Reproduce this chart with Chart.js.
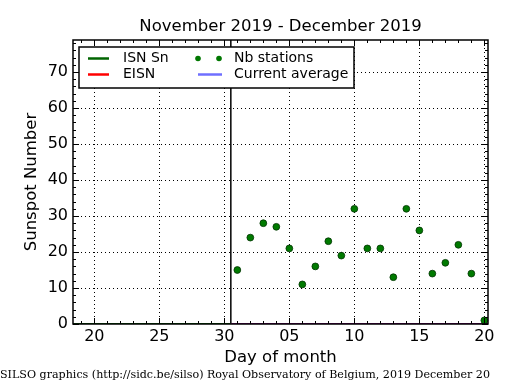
<!DOCTYPE html>
<html><head><meta charset="utf-8">
<script src="https://cdn.jsdelivr.net/npm/chart.js@4"></script>
<style>html,body{margin:0;padding:0;background:#fff}#wrap{width:515px;height:390px}</style>
</head><body><div id="wrap"><canvas id="c" width="515" height="390"></canvas></div>
<script>
const chartTitle = "November 2019 - December 2019";
const footerText = "SILSO graphics (http://sidc.be/silso) Royal Observatory of Belgium, 2019 December 20";
const xAxisTitle = "Day of month";
const yAxisTitle = "Sunspot Number";
// day index: Nov n = n, Dec n = 30 + n
const stationDays = [31,32,33,34,35,36,37,38,39,40,41,42,43,44,45,46,47,48,49,50];
const stationValues = [15,24,28,27,21,11,16,23,19,32,21,21,13,32,26,14,17,22,14,1];
const isnDays = [18, 30.5];
const isnValues = [0, 0];
const decLineDays = [30.5, 51];
const decLineValues = [0, 0];
const monthBoundary = 30.5;
const xTickValues = [20,25,30,35,40,45,50];
const xTickLabels = ["20","25","30","05","10","15","20"];
const yTickValues = [0,10,20,30,40,50,60,70];
const legendItems = [
  {label:"ISN Sn", kind:"line", color:"#006400"},
  {label:"EISN", kind:"line", color:"#ff0000"},
  {label:"Nb stations", kind:"dots", color:"#007700"},
  {label:"Current average", kind:"line", color:"#6f6fff"}
];

const toXY = (xs, ys) => xs.map((x,i)=>({x:x, y:ys[i]}));

const FONT = "'DejaVu Sans', sans-serif";

const framePlugin = {
  id: 'frame',
  beforeDatasetsDraw(chart) {
    const {ctx, chartArea: a, scales: {x, y}} = chart;
    ctx.save();
    ctx.strokeStyle = '#000';
    ctx.lineWidth = 1;
    ctx.setLineDash([1, 3]);
    xTickValues.forEach(v => {
      const px = Math.round(x.getPixelForValue(v)) + 0.5;
      ctx.beginPath(); ctx.moveTo(px, a.top); ctx.lineTo(px, a.bottom); ctx.stroke();
    });
    yTickValues.forEach(v => {
      if (v === 0) return;
      const py = Math.round(y.getPixelForValue(v)) + 0.5;
      ctx.beginPath(); ctx.moveTo(a.left, py); ctx.lineTo(a.right, py); ctx.stroke();
    });
    ctx.setLineDash([]);
    ctx.lineWidth = 1.5;
    const bx = x.getPixelForValue(monthBoundary);
    ctx.beginPath(); ctx.moveTo(bx, a.top); ctx.lineTo(bx, a.bottom); ctx.stroke();
    ctx.restore();
  },
  afterDatasetsDraw(chart) {
    const {ctx, chartArea: a, scales: {x, y}} = chart;
    ctx.save();
    ctx.strokeStyle = '#000';
    ctx.lineWidth = 1;
    for (let d = Math.ceil(x.min); d <= x.max; d++) {
      const px = Math.round(x.getPixelForValue(d)) + 0.5;
      const major = xTickValues.includes(d);
      const L = major ? 6 : 3;
      ctx.beginPath();
      ctx.moveTo(px, a.bottom); ctx.lineTo(px, a.bottom - L);
      ctx.moveTo(px, a.top); ctx.lineTo(px, a.top + L);
      ctx.stroke();
    }
    for (let v = 0; v <= y.max; v += 2) {
      const py = Math.round(y.getPixelForValue(v)) + 0.5;
      const major = yTickValues.includes(v);
      const L = major ? 6 : 3;
      ctx.beginPath();
      ctx.moveTo(a.left, py); ctx.lineTo(a.left + L, py);
      ctx.moveTo(a.right, py); ctx.lineTo(a.right - L, py);
      ctx.stroke();
    }
    ctx.lineWidth = 1.5;
    ctx.strokeRect(a.left, a.top, a.right - a.left, a.bottom - a.top);

    // legend
    const lx = a.left + 6, ly = a.top + 7, lw = 275, lh = 41;
    ctx.fillStyle = '#fff';
    ctx.fillRect(lx, ly, lw, lh);
    ctx.lineWidth = 1.5;
    ctx.strokeRect(lx, ly, lw, lh);
    ctx.font = "14px " + FONT;
    ctx.textBaseline = 'middle';
    ctx.textAlign = 'left';
    legendItems.forEach((it, i) => {
      const col = Math.floor(i / 2), row = i % 2;
      const x0 = lx + 9 + col * 110;
      const yy = ly + 11.5 + row * 16;
      if (it.kind === 'line') {
        ctx.strokeStyle = it.color; ctx.lineWidth = 2.5;
        ctx.beginPath(); ctx.moveTo(x0, yy); ctx.lineTo(x0 + (col ? 24 : 21), yy); ctx.stroke();
      } else {
        ctx.fillStyle = it.color;
        [x0, x0 + 21].forEach(cx => { ctx.beginPath(); ctx.arc(cx, yy, 2.8, 0, Math.PI*2); ctx.fill(); });
      }
      ctx.fillStyle = '#000';
      ctx.fillText(it.label, x0 + (col ? 36 : 35), yy);
    });

    ctx.font = "16.5px " + FONT;
    ctx.textAlign = 'center';
    ctx.textBaseline = 'alphabetic';
    ctx.fillStyle = '#000';
    ctx.fillText(chartTitle, (a.left + a.right) / 2, 31);

    ctx.font = "11.1px 'DejaVu Serif', serif";
    ctx.textAlign = 'left';
    ctx.fillText(footerText, 0, 378);
    ctx.restore();
  }
};

new Chart(document.getElementById('c'), {
  type: 'scatter',
  data: {
    datasets: [
      {label:'ISN Sn', data: toXY(isnDays, isnValues), showLine:true, borderColor:'#006400', borderWidth:2, pointRadius:0, order:3},
      {label:'Dec', data: toXY(decLineDays, decLineValues), showLine:true, borderColor:'#800080', borderWidth:2, pointRadius:0, order:2},
      {label:'Nb stations', data: toXY(stationDays, stationValues), showLine:false, backgroundColor:'#007a00', borderColor:'#003300', borderWidth:0.8, pointRadius:3.4, order:1, clip:false}
    ]
  },
  options: {
    responsive: false,
    devicePixelRatio: 1,
    animation: false,
    events: [],
    layout: {padding: {left: 0, right: 27, top: 40, bottom: 0}},
    plugins: {legend: {display:false}, tooltip: {enabled:false}, title: {display:false}},
    scales: {
      x: {
        type: 'linear', min: 18.36, max: 50.28,
        afterBuildTicks: s => { s.ticks = xTickValues.map(v => ({value: v})); },
        afterFit: s => { s.height = 66; },
        grid: {display:false, drawTicks:false},
        border: {display:false},
        ticks: {font:{family:FONT, size:16}, color:'#000', padding:3, maxRotation:0, autoSkip:false,
          callback: (v, i) => xTickLabels[i]},
        title: {display:true, text:xAxisTitle, color:'#000', font:{family:FONT, size:16.5}, padding:{top:0, bottom:22}}
      },
      y: {
        type: 'linear', min: 0, max: 78.9,
        afterBuildTicks: s => { s.ticks = yTickValues.map(v => ({value: v})); },
        afterFit: s => { s.width = 73; },
        grid: {display:false, drawTicks:false},
        border: {display:false},
        ticks: {font:{family:FONT, size:16}, color:'#000', padding:5, autoSkip:false},
        title: {display:true, text:yAxisTitle, color:'#000', font:{family:FONT, size:16.5}, padding:{top:22, bottom:0}}
      }
    }
  },
  plugins: [framePlugin]
});
</script>
</body></html>
